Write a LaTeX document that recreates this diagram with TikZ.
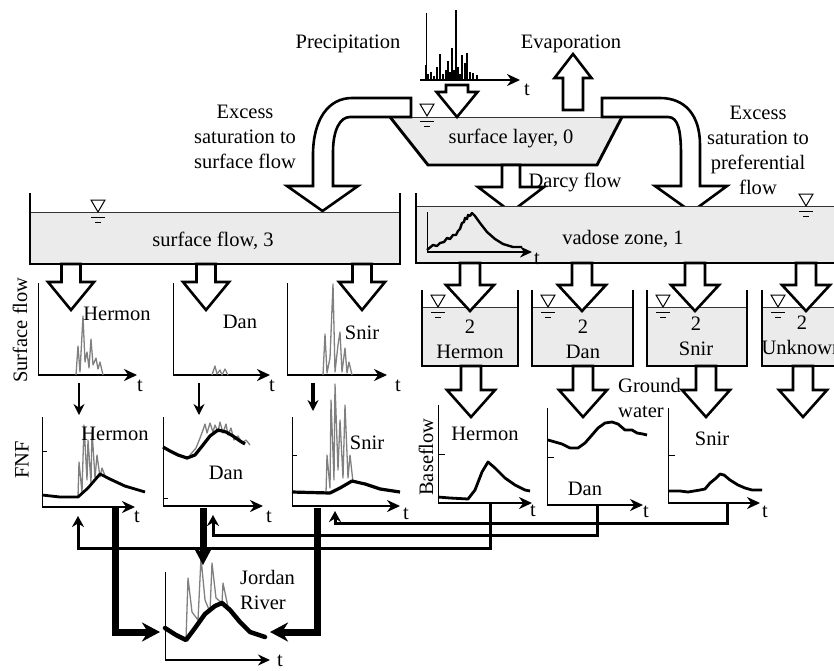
\documentclass[tikz,border=0pt]{standalone}
\usepackage{fontspec}
\setmainfont{Liberation Serif}
\usetikzlibrary{arrows.meta}

\definecolor{tankfill}{gray}{0.92}
\definecolor{obsgray}{gray}{0.5}

\tikzset{
  lab/.style={font=\fontsize{20.5}{25}\selectfont, inner sep=0pt, align=center},
  wall/.style={line width=2.9pt, line join=miter},
  surf/.style={line width=0.8pt, black!80},
  barrow/.style={draw, line width=2.6pt, fill=white, line join=miter},
  yaxis/.style={line width=0.9pt},
  xaxis/.style={line width=2.8pt, -{Stealth[length=13pt,width=12pt]}},
  obs/.style={obsgray, line width=1.3pt, line join=round},
  sim/.style={line width=2.8pt, line join=round},
  link/.style={line width=3pt, -{Stealth[length=11pt,width=12pt]}},
  trunk/.style={line width=7pt, -{Stealth[length=18pt,width=19pt]}},
  thinarrow/.style={line width=2.6pt, -{Stealth[length=11pt,width=11pt]}},
}

% block arrow: x, start, head base, tip, shaft half width, head half width
\newcommand{\blockarrow}[6]{%
  \draw[barrow] ({#1-#5},#2) -- ({#1-#5},#3) -- ({#1-#6},#3) -- (#1,#4)
    -- ({#1+#6},#3) -- ({#1+#5},#3) -- ({#1+#5},#2) -- cycle;}
% water level sign at x, water line y
\newcommand{\wlevel}[2]{%
  \draw[line width=1pt] ({#1-7},{#2-12}) -- ({#1+7},{#2-12}) -- (#1,#2) -- cycle;
  \draw[line width=1pt] ({#1-7},{#2+5}) -- ({#1+7},{#2+5}) ({#1-3},{#2+10}) -- ({#1+3},{#2+10});}
% tank: left, right, top, water line, bottom
\newcommand{\watertank}[5]{%
  \fill[tankfill] (#1,#4) rectangle (#2,#5);
  \draw[surf] (#1,#4) -- (#2,#4);
  \draw[wall] (#1,#3) -- (#1,#5) -- (#2,#5) -- (#2,#3);}
% chart axes: x0, y top, y axis, x end
\newcommand{\chartaxes}[4]{%
  \draw[yaxis] (#1,#2) -- (#1,#3);
  \draw[xaxis] (#1,#3) -- (#4,#3);}

\begin{document}
\begin{tikzpicture}[x=1pt,y=-1pt]
  \useasboundingbox (0,0) rectangle (834,670);
  \clip (0,0) rectangle (834,670);

  % precipitation series
  \draw[yaxis] (426,13) -- (426,80);
  \foreach \x/\h in {426/65,428/74,431/72,434/76,437/67,440/54,443/74,446/70,448/61,450/72,
                     452/48,454/70,456/10,458/67,460/74,462/55,465/63,467/53,470/72,473/73,477/75}
    \draw[line width=1.4pt] (\x,80) -- (\x,\h);
  \draw[line width=2.2pt, -{Stealth[length=13pt,width=12pt]}] (420,80) -- (520,80);
  \node[lab] (precip) at (348,44) {Precipitation};
  \node[lab] (evap) at (571,44) {Evaporation};

  % surface layer
  \fill[tankfill] (390,117) -- (622,117) -- (597,165) -- (428,165) -- cycle;
  \draw[surf] (390,117) -- (622,117);
  \draw[wall] (390,117) -- (428,165) -- (597,165) -- (622,117);
  \wlevel{427}{116}
  \node[lab] (layer0) at (511,138) {surface layer, 0};

  \blockarrow{457}{85}{92}{117}{11}{20.5}
  \blockarrow{573}{110}{78}{54}{10}{18.5}
  \blockarrow{511}{165}{187}{212}{9}{33}
  \node[lab] (darcy) at (575,182) {Darcy flow};

  % excess saturation arrows
  \draw[barrow] (411,98) -- (352,98) .. controls (328,98) and (313,120) .. (313,155)
    -- (313,186) -- (287,186) -- (322.5,211) -- (358,186) -- (333,186) -- (333,152)
    .. controls (333,130) and (340,117) .. (350,117) -- (411,117) -- cycle;
  \draw[barrow] (602,98) -- (660,98) .. controls (685,98) and (700,115) .. (700,145)
    -- (700,186) -- (727,186) -- (691.5,212) -- (655,186) -- (681,186) -- (681,155)
    .. controls (681,130) and (678,117) .. (668,117) -- (602,117) -- cycle;
  \node[lab] (excessL) at (245,137) {Excess\\saturation to\\surface flow};
  \node[lab] (excessR) at (758,150) {Excess\\saturation to\\preferential\\flow};

  % surface flow, 3
  \watertank{30}{400}{193}{212}{264}
  \wlevel{98}{212}
  \node[lab] (sflow3) at (213,241) {surface flow, 3};

  % vadose zone, 1
  \watertank{416}{860}{193}{206}{263}
  \wlevel{806}{206}
  \node[lab] (vadose1) at (623,239) {vadose zone, 1};
  \draw[yaxis] (427,212) -- (427,252);
  \draw[line width=2.2pt, -{Stealth[length=12pt,width=11pt]}] (427,252) -- (532,252);
  \draw[sim, line width=2.4pt] plot coordinates {(427,250) (433,245) (437,246) (440,243) (444,242)
    (447,238) (450,239) (453,235) (456,235) (458,231) (460,229) (462,223) (464,222) (465,218)
    (467,219) (468,215) (470,216) (472,213) (475,216) (480,223) (487,232) (495,239) (503,244)
    (513,247) (522,247)};

  % groundwater tanks, 2
  \foreach \l/\r in {422/518,532/633,647/747,762/860}
    {\watertank{\l}{\r}{290}{307}{366} \wlevel{\l+16}{307}}
  \node[lab] (gwH) at (470,339) {2\\Hermon};
  \node[lab] (gwD) at (583,339) {2\\Dan};
  \node[lab] (gwS) at (696,336) {2\\Snir};
  \node[lab] (gwU) at (802,335) {2\\Unknown};

  \foreach \x in {71,206,362} {\blockarrow{\x}{264}{282}{310}{9.5}{23}}
  \foreach \x in {470,582,695,806} {\blockarrow{\x}{263}{285}{311}{10}{24}}
  \foreach \x in {471,583,706,803} {\blockarrow{\x}{366}{390}{417}{10}{24}}
  \node[lab, anchor=west, align=left] (gwater) at (618,398) {Ground\\water};

  % surface flow charts
  \chartaxes{38}{283}{375}{137}
  \chartaxes{173}{283}{375}{270}
  \chartaxes{287}{283}{375}{387}
  \draw[obs] plot coordinates {(76,375) (78,346) (80,372) (83,316) (85,362) (87,352) (89,368)
    (91,339) (93,365) (96,358) (98,369) (100,362) (103,375)};
  \draw[obs] plot coordinates {(212,375) (215,366) (217,374) (220,370) (222,375) (225,369) (228,375)};
  \draw[obs] plot coordinates {(323,375) (325,334) (327,373) (330,358) (333,284) (335,372) (338,345)
    (340,332) (342,372) (345,348) (347,373) (349,362) (352,375)};
  \node[lab] (sfH) at (117,314) {Hermon};
  \node[lab] (sfD) at (240,322) {Dan};
  \node[lab] (sfS) at (362,333) {Snir};
  \node[lab, rotate=90] (sfaxis) at (20,330) {Surface flow};

  \draw[thinarrow] (79,383) -- (79,415);
  \draw[thinarrow] (199,383) -- (199,415);
  \draw[thinarrow, line width=4pt] (313,383) -- (313,411);

  % FNF charts
  \chartaxes{42}{417}{507}{135}
  \chartaxes{163}{417}{506}{263}
  \chartaxes{292}{417}{506}{400}
  \foreach \x/\y in {42/451,163/498,292/455} \draw[yaxis] (\x,\y) -- ++(5,0);
  \draw[obs] plot coordinates {(78,497) (79,462) (82,492) (84,425) (87,480) (88,440) (91,483)
    (92,430) (95,478) (97,455) (100,477) (102,468) (106,478) (110,480) (125,487) (145,492)};
  \draw[sim] plot coordinates {(42,495) (60,497) (78,497) (88,488) (100,474) (110,479) (125,486) (145,492)};
  \draw[obs] plot coordinates {(190,455) (196,448) (200,438) (203,430) (205,424) (207,433) (210,423)
    (213,432) (215,425) (218,432) (220,422) (223,433) (226,424) (228,435) (231,428) (234,440)
    (238,436) (242,443) (246,440) (250,445)};
  \draw[sim, line width=3.2pt] plot coordinates {(163,447) (170,451) (178,455) (187,458) (195,455) (203,445) (210,436)
    (218,430) (226,432) (233,436) (240,441) (245,444)};
  \draw[obs] plot coordinates {(326,493) (327,455) (330,488) (331,400) (334,480) (335,384) (338,470)
    (340,420) (343,478) (345,405) (348,478) (350,455) (353,482) (365,483) (380,488) (400,492)};
  \draw[sim, line width=3.2pt] plot coordinates {(292,492) (330,493) (340,488) (352,481) (365,484) (380,489) (400,492)};
  \node[lab] (fnfH) at (115,434) {Hermon};
  \node[lab] (fnfD) at (226,473) {Dan};
  \node[lab] (fnfS) at (367,443) {Snir};
  \node[lab, rotate=90] (fnfaxis) at (22,460) {FNF};

  % baseflow charts
  \chartaxes{438}{405}{503}{532}
  \chartaxes{547}{408}{505}{643}
  \chartaxes{668}{408}{503}{760}
  \foreach \x/\y in {438/454,547/457,668/455} \draw[yaxis] (\x,\y) -- ++(7,0);
  \draw[sim] plot coordinates {(438,497) (450,498) (468,499) (475,490) (482,472) (488,462) (495,468)
    (505,478) (515,485) (525,490) (530,491)};
  \draw[sim] plot coordinates {(548,440) (555,442) (562,444) (570,448) (578,448) (585,443) (592,435)
    (598,428) (605,423) (612,422) (618,424) (625,430) (632,430) (637,433) (643,434) (647,435)};
  \draw[sim] plot coordinates {(668,491) (680,491) (688,492) (700,490) (705,489) (710,483) (715,479)
    (720,474) (724,475) (730,480) (738,485) (745,488) (752,490) (762,490)};
  \node[lab] (bfH) at (485,434) {Hermon};
  \node[lab] (bfD) at (585,489) {Dan};
  \node[lab] (bfS) at (712,439) {Snir};
  \node[lab, rotate=90] (bfaxis) at (426,457) {Baseflow};

  % Jordan River chart
  \draw[yaxis] (165,572) -- (165,660);
  \draw[line width=2.2pt, -{Stealth[length=12pt,width=11pt]}] (165,660) -- (270,660);
  \draw[obs] plot coordinates {(186,640) (188,578) (192,612) (198,620) (201,558) (205,600) (210,612)
    (212,563) (216,598) (222,603) (223,583) (228,607)};
  \draw[sim, line width=4.5pt, line cap=round] plot coordinates {(165,628) (176,635) (186,640)
    (195,628) (205,614) (215,606) (222,603) (230,610) (240,622) (250,632) (265,637)};
  \node[lab, anchor=west, align=left] (jordan) at (240,590) {Jordan\\River};

  % t labels
  \foreach \x/\y [count=\i] in {527/90,537/259,140/386,272/386,398/386,137/517,269/517,406/514,
                                533/511,646/512,765/512,280/661}
    \node[lab] (tlab\i) at (\x,\y) {t};

  % baseflow to FNF
  \coordinate (bfHout) at (490,503);
  \coordinate (bfDout) at (597,505);
  \coordinate (bfSout) at (727,503);
  \coordinate (fnfHin) at (78,516);
  \coordinate (fnfDin) at (213,515);
  \coordinate (fnfSin) at (335,511);
  \draw[link] (bfHout) -- ++(0,45) -| (fnfHin);
  \draw[link] (bfDout) -- ++(0,30) -| (fnfDin);
  \draw[link] (bfSout) -- ++(0,20) -| (fnfSin);

  % FNF to Jordan River
  \coordinate (fnfHout) at (115,508);
  \coordinate (fnfDout) at (203,508);
  \coordinate (fnfSout) at (317,508);
  \coordinate (jorL) at (160,632);
  \coordinate (jorT) at (203,565);
  \coordinate (jorR) at (270,632);
  \draw[trunk] (fnfHout) |- (jorL);
  \draw[trunk] (fnfDout) -- (jorT);
  \draw[trunk] (fnfSout) |- (jorR);
\end{tikzpicture}
\end{document}
